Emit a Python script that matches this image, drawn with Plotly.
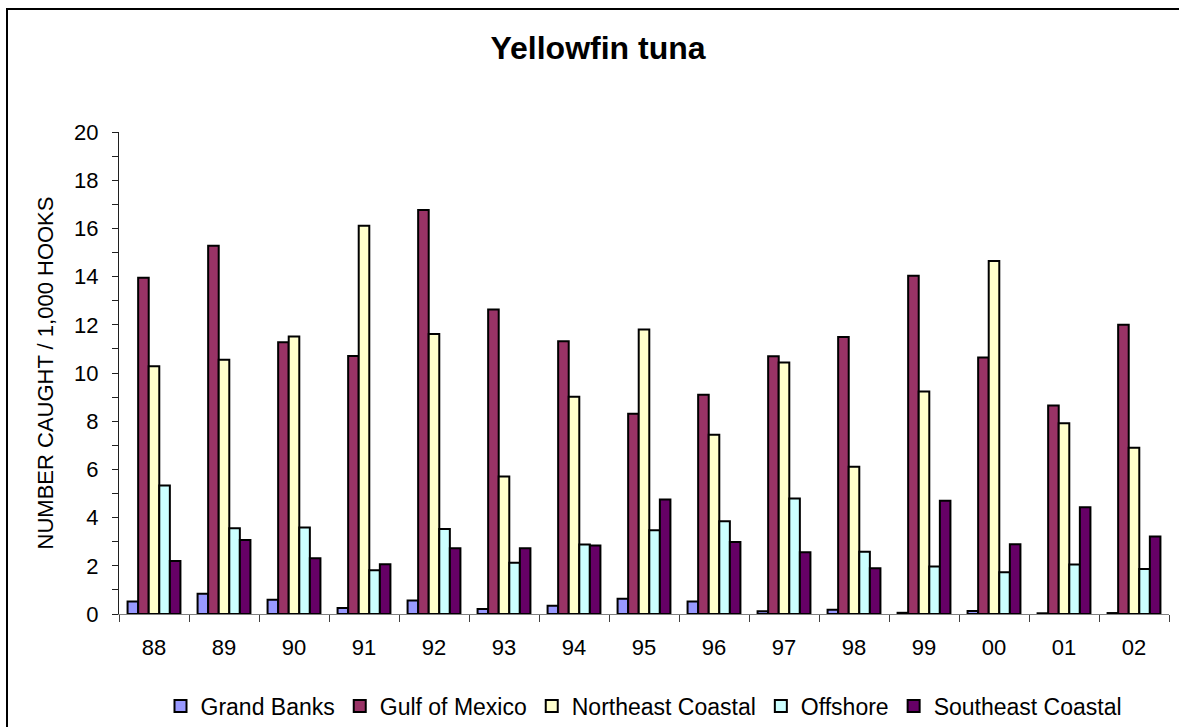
import plotly.graph_objects as go

years = ["88", "89", "90", "91", "92", "93", "94", "95", "96", "97", "98", "99", "00", "01", "02"]
grand_banks = [0.52, 0.84, 0.59, 0.25, 0.56, 0.21, 0.34, 0.63, 0.52, 0.11, 0.18, 0.05, 0.12, 0.03, 0.04]
gulf_of_mexico = [13.95, 15.28, 11.28, 10.71, 16.76, 12.63, 11.32, 8.31, 9.10, 10.69, 11.49, 14.04, 10.64, 8.65, 12.00]
northeast_coastal = [10.28, 10.55, 11.51, 16.11, 11.62, 5.71, 9.01, 11.80, 7.44, 10.44, 6.11, 9.23, 14.65, 7.92, 6.90]
offshore = [5.33, 3.56, 3.59, 1.82, 3.53, 2.13, 2.88, 3.47, 3.85, 4.79, 2.58, 1.97, 1.73, 2.05, 1.87]
southeast_coastal = [2.20, 3.07, 2.31, 2.06, 2.73, 2.73, 2.84, 4.75, 2.99, 2.56, 1.90, 4.70, 2.89, 4.43, 3.22]

series = [
    ("Grand Banks", grand_banks, "#9999FF"),
    ("Gulf of Mexico", gulf_of_mexico, "#993366"),
    ("Northeast Coastal", northeast_coastal, "#FFFFCC"),
    ("Offshore", offshore, "#CCFFFF"),
    ("Southeast Coastal", southeast_coastal, "#660066"),
]

FONT = "Liberation Sans, Arial, sans-serif"

fig = go.Figure()
for name, vals, col in series:
    fig.add_trace(go.Bar(
        x=years, y=vals, name=name,
        marker=dict(color=col, line=dict(color="black", width=2)),
    ))

W, H = 1179, 727
L, R, T, B = 119, 10, 132, 113
pw = W - L - R
ph = H - T - B

fig.update_layout(
    width=W, height=H,
    margin=dict(l=L, r=R, t=T, b=B, autoexpand=False),
    paper_bgcolor="white", plot_bgcolor="white",
    barmode="group", bargap=0.245, bargroupgap=0,
    font=dict(family=FONT, size=22, color="black"),
    title=dict(text="<b>Yellowfin tuna</b>", x=598 / W, xref="container", xanchor="center",
               y=1 - 48 / H, yref="container", yanchor="middle",
               font=dict(family=FONT, size=32, color="black")),
    showlegend=True,
    legend=dict(orientation="h", x=0.5, xanchor="center", y=-(706 - (T + ph)) / ph, yanchor="middle",
                font=dict(family=FONT, size=23, color="black"), traceorder="normal"),
    xaxis=dict(type="category", showline=True, linecolor="#808080", linewidth=1,
               ticks="outside", ticklen=7, tickcolor="#404040", tickson="boundaries",
               showgrid=False, tickfont=dict(size=22), ticklabelstandoff=14),
    yaxis=dict(range=[0, 20], dtick=2, showline=True, linecolor="#202020", linewidth=1,
               ticks="outside", ticklen=6, tickcolor="#202020", showgrid=False, zeroline=False,
               minor=dict(dtick=1, ticks="outside", ticklen=6, tickcolor="#202020"),
               tickfont=dict(size=22), ticklabelstandoff=9,
               title=dict(text="NUMBER CAUGHT / 1,000 HOOKS", font=dict(size=22), standoff=14)),
)

# outer chart frame
fig.add_shape(type="rect", xref="paper", yref="paper",
              x0=(7 - L) / pw, x1=(1185 - L) / pw,
              y0=-(735 - (T + ph)) / ph, y1=1 + (T - 9) / ph,
              line=dict(color="black", width=2), fillcolor="rgba(0,0,0,0)", layer="below")

fig.write_html("out.html", config={"displayModeBar": False},
               post_script="document.body.style.margin='0';document.body.style.overflow='hidden';")
